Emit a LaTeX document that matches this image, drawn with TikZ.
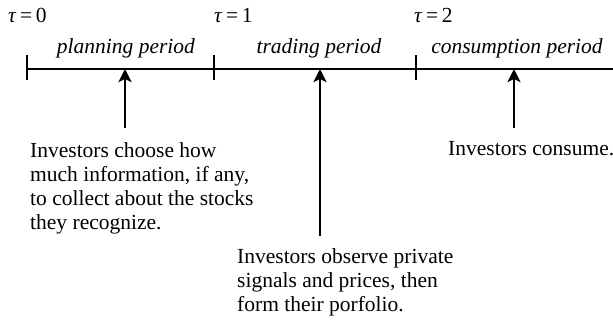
\documentclass[tikz,border=0pt]{standalone}
\usepackage{fontspec}
\setmainfont{LiberationSerif}[Extension=.ttf,UprightFont=*-Regular,ItalicFont=*-Italic,BoldFont=*-Bold]
\usetikzlibrary{arrows.meta}

\begin{document}
\begin{tikzpicture}[x=1pt,y=-1pt,
  every node/.style={inner sep=0pt,font=\fontsize{21.5}{24}\selectfont},
  tick/.style={line width=1.6pt},
  uparrow/.style={line width=2.8pt,-{Stealth[length=13pt,width=13pt,inset=3pt]}}]
  \useasboundingbox (0,0) rectangle (613,324);

  % Time line
  \coordinate (L) at (27,69);
  \coordinate (R) at (613,69);
  \draw[line width=1.6pt] (L) -- (R);

  % Ticks
  \coordinate (t0) at (27,69);
  \coordinate (t1) at (214,69);
  \coordinate (t2) at (416,69);
  \foreach \t in {t0,t1,t2}
    \draw[tick] ([yshift=-11]\t) -- ([yshift=14]\t);

  % Dates
  \node[anchor=base west] (d0) at (8,23) {\textit{τ}\,=\,0};
  \node[anchor=base west] (d1) at (214,23) {\textit{τ}\,=\,1};
  \node[anchor=base west] (d2) at (414,23) {\textit{τ}\,=\,2};

  % Periods
  \node[anchor=base] (p0) at (126,53) {\textit{planning period}};
  \node[anchor=base] (p1) at (319,53) {\textit{trading period}};
  \node[anchor=base] (p2) at (517,53) {\textit{consumption period}};

  % Arrows up to the time line
  \coordinate (a0) at (125,69);
  \coordinate (a1) at (320,69);
  \coordinate (a2) at (514,69);
  \coordinate (b0) at (125,128);
  \coordinate (b1) at (320,236);
  \coordinate (b2) at (514,128);
  \draw[uparrow] (b0) -- (a0);
  \draw[uparrow] (b1) -- (a1);
  \draw[uparrow] (b2) -- (a2);

  % What happens
  \node[anchor=north west,align=left] (e0) at (30,142)
    {Investors choose how\\ much information, if any,\\ to collect about the stocks\\ they recognize.};
  \node[anchor=north west,align=left] (e1) at (237,248)
    {Investors observe private\\ signals and prices, then\\ form their porfolio.};
  \node[anchor=north west,align=left] (e2) at (448,141)
    {Investors consume.};
\end{tikzpicture}
\end{document}
